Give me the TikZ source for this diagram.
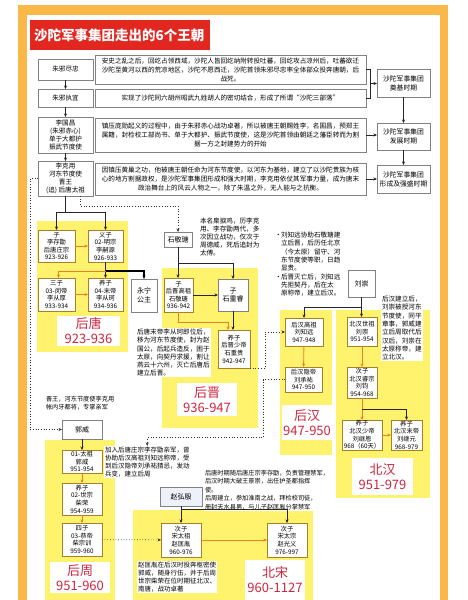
\documentclass[tikz,border=0pt]{standalone}
\usepackage{fontspec}
\setmainfont{Noto Sans CJK SC}
\XeTeXlinebreaklocale "zh"
\XeTeXlinebreakskip = 0pt plus 1pt
\usetikzlibrary{arrows.meta}
\definecolor{frameor}{RGB}{249,184,72}
\definecolor{titred}{RGB}{226,38,32}
\definecolor{yel}{RGB}{255,243,110}
\definecolor{gold}{RGB}{168,128,40}
\definecolor{dynred}{RGB}{205,38,62}
\definecolor{arrowor}{RGB}{232,128,40}
\definecolor{gbord}{RGB}{130,130,130}
\definecolor{lav}{RGB}{238,240,250}
\newcommand\fz[2]{\fontsize{#1}{#2}\selectfont}
\newcommand\bx[7]{\node[#6, anchor=north west, minimum width={(#4-#2)*1pt}, minimum height={(#5-#3)*1pt}] (#1) at (#2,#3) {#7};}
\tikzset{
 abox/.style={draw=gbord, fill=white, line width=0.5pt, align=center, inner sep=1pt, outer sep=0pt, font=\fz{6.6}{8.2}},
 tbox/.style={abox, font=\fz{6.6}{9}},
 rbox/.style={draw=gbord, fill=white, line width=0.8pt, align=center, inner sep=1pt, outer sep=0pt, font=\fz{6.8}{9}},
 mbox/.style={draw=gold, fill=white, line width=0.7pt, align=center, inner sep=0.5pt, outer sep=0pt, font=\fz{6.3}{7.6}},
 gbox/.style={draw=gbord, fill=white, line width=0.6pt, align=center, inner sep=1pt, outer sep=0pt, font=\fz{7}{8.5}},
 txt/.style={fill=white, align=left, inner sep=1pt, outer sep=0pt, font=\fz{6.5}{8.2}},
 lbl/.style={fill=white, text=dynred, align=center, inner sep=1pt, outer sep=0pt, font=\fz{13}{15}},
 arrtip/.style={-{Stealth[length=3.5pt,width=3pt]}},
 blk/.style={draw=black!85, line width=0.6pt},
 blkarr/.style={blk, arrtip},
 thk/.style={draw=black, line width=1.3pt, arrtip},
 ornarr/.style={draw=arrowor, line width=0.9pt, arrtip},
 dotarr/.style={draw=black!80, line width=0.7pt, dotted, arrtip},
}
\begin{document}
\begin{tikzpicture}[x=1pt,y=-1pt]
\useasboundingbox (0,0) rectangle (467,600);
\fill[white] (0,0) rectangle (467,600);
\fill[frameor] (18,5) rectangle (448,600);
\fill[white] (27,15) rectangle (440,600);
% title
\node[fill=titred, anchor=north west, text width=172pt, inner xsep=4pt, minimum height=30pt, align=left, text=white, font=\fz{13.5}{15}\bfseries] (title) at (30,20) {沙陀军事集团走出的6个王朝};
% rows
\bx{a1}{38}{59}{93}{80}{abox}{朱邪尽忠}
\bx{t1}{95}{55}{366}{84}{tbox}{安史之乱之后，回纥占领西域，沙陀人皆回纥纳附转投吐蕃，回纥攻占凉州后，吐蕃欲迁\\沙陀至黄河以西的荒凉地区，沙陀不愿西迁，沙陀首领朱邪尽忠率全体部众投奔唐朝，后\\战死。}
\bx{a2}{38}{89}{93}{107}{abox}{朱邪执宜}
\bx{t2}{95}{89}{366}{107}{tbox}{实现了沙陀同六胡州昭武九姓胡人的密切结合，形成了所谓“沙陀三部落”}
\bx{a3}{38}{117}{93}{153}{abox}{李国昌\\(朱邪赤心)\\单于大都护\\振武节度使}
\bx{t3}{95}{118}{366}{152}{tbox}{镇压庞勋起义的过程中，由于朱邪赤心战功卓著，所以被唐王朝赐姓李，名国昌，预郑王\\属籍，封检校工部尚书、单于大都护、振武节度使，这是沙陀首领由朝廷之藩臣转而为割\\据一方之封建势力的开始}
\bx{a4}{38}{161}{93}{196}{abox}{李克用\\河东节度使\\晋王\\(追) 后唐太祖}
\bx{t4}{95}{163}{366}{195}{tbox}{因镇压黄巢之功，他被唐王朝任命为河东节度使，以河东为基地，建立了以沙陀贵族为核\\心的地方割据政权，是沙陀军事集团形成和强大时期，李克用依仗其军事力量，成为唐末\\政治舞台上的风云人物之一，除了朱温之外，无人能与之抗衡。}
\bx{r1}{377}{69}{430}{97}{rbox}{沙陀军事集团\\奠基时期}
\bx{r2}{377}{123}{430}{150}{rbox}{沙陀军事集团\\发展时期}
\bx{r3}{377}{165}{430}{193}{rbox}{沙陀军事集团\\形成及强盛时期}
\draw[blkarr] (a1) -- (a2);
\draw[blkarr] (a2) -- (a3);
\draw[blkarr] (a3) -- (a4);
\coordinate (br) at (370,83.5);
\draw[blk] (t1.east) -- (t1.east -| br) -- (t2.east -| br) -- (t2.east);
\draw[blkarr] (br) -- (br -| r1.west);
\draw[blkarr] (r1) -- (r2);
\draw[blkarr] (r2) -- (r3);
\draw[blkarr] (t3.east) -- (t3.east -| r2.west);
\draw[blkarr] (t4.east) -- (t4.east -| r3.west);
% yellow regions
\fill[yel] (37,221) rectangle (128,352);
\fill[yel] (162,268) rectangle (258,428);
\fill[yel] (280,310) rectangle (332,455);
\fill[yel] (336,310) rectangle (430,498);
\fill[yel] (45,440) rectangle (115,600);
\fill[yel] (133,510) rectangle (313,600);
% Later Tang
\bx{b1}{38}{230}{75}{262}{mbox}{子\\李存勖\\后唐庄宗\\923-926}
\bx{b2}{88}{230}{123}{262}{mbox}{义子\\02-明宗\\李嗣源\\926-933}
\bx{b3}{38}{278}{75}{311}{mbox}{三子\\03-闵帝\\李从厚\\933-934}
\bx{b4}{88}{278}{123}{311}{mbox}{养子\\04-末帝\\李从珂\\934-936}
\bx{b5}{131}{279}{157}{312}{gbox}{永宁\\公主}
\bx{lt}{57}{316}{120}{346}{lbl}{后唐\\923-936}
\draw[blk] (a4.south) -- ++(0,16) coordinate (j1);
\draw[blkarr] (j1) -| (b1.north);
\draw[blkarr] (j1) -| (b2.north);
\draw[ornarr] (b1) -- (b2);
\draw[ornarr] (b3) -- (b4);
\draw[blk] (b2.south) -- ++(0,9) coordinate (j2);
\draw[blkarr] (j2) -- (b4.north);
\draw[thk] (j2) -| (b5.north);
\draw[ornarr] (j2) -| ([xshift=2pt]b3.north);
\node[txt, anchor=north west, font=\fz{6.6}{8.2}] (tb) at (136,328) {后唐末帝李从珂即位后，\\移为河东节度使，封为赵\\国公，后起兵造反，困于\\太原，向契丹求援，割让\\燕云十六州，灭亡后唐后\\建立后晋。};
% Later Jin
\bx{c0}{164}{232}{192}{247}{gbox}{石敬瑭}
\node[txt, anchor=north west, font=\fz{6.6}{8}] (tc0) at (199,217) {本名臬捩鸡，历李克\\用、李存勖两代，多\\次因立战功，仅次于\\周德威，死后追封为\\太傅。};
\bx{c1}{164}{278}{193}{312}{mbox}{子\\后晋高祖\\石敬瑭\\936-942}
\bx{c2}{218}{279}{248}{311}{gbox}{子\\石重睿}
\bx{c3}{218}{330}{250}{368}{mbox}{养子\\后晋少帝\\石重贵\\942-947}
\bx{lj}{177}{383}{237}{416}{lbl}{后晋\\936-947}
\draw[dotarr] ([xshift=14.5pt]a4.south) -- ++(0,10) -| (c0.north);
\draw[blk] (c0.south) -- ++(0,16) coordinate (j3);
\draw[blkarr] (j3) -- (j3 |- c1.north);
\draw[blkarr] (j3) -| (c2.north);
\draw[blkarr] (c1) -- (c2);
\draw[ornarr] (c1.south) -- ++(0,10) -| ([xshift=-6pt]c3.north);
\draw[blkarr] (c2.south) -- (c2.south |- c3.north);
% Later Han / Northern Han
\node[txt, anchor=north west, font=\fz{6.6}{8.3}] (th) at (274,231) {\makebox[6pt][l]{•}刘知远协助石敬瑭建\\\hspace*{6pt}立后晋，后历任北京\\\hspace*{6pt}（今太原）留守、河\\\hspace*{6pt}东节度使等职，日趋\\\hspace*{6pt}显贵。\\\makebox[6pt][l]{•}后晋灭亡后，刘知远\\\hspace*{6pt}先拒契丹，后在太\\\hspace*{6pt}原称帝，建立后汉。};
\bx{l0}{348}{270}{375}{297}{gbox}{刘崇}
\bx{h1}{285}{318}{323}{346}{mbox}{后汉高祖\\刘知远\\947-948}
\bx{h2}{285}{367}{322}{392}{mbox}{后汉隐帝\\刘承祐\\947-950}
\bx{n1}{347}{317}{377}{346}{mbox}{北汉世祖\\刘崇\\951-954}
\node[txt, anchor=north west, font=\fz{6.6}{8.3}] (tn) at (381,295) {后汉建立后，\\刘崇被授河东\\节度使，同平\\章事，郭威建\\立后周取代后\\汉后，刘崇在\\太原称帝，建\\立北汉。};
\bx{n2}{347}{367}{377}{398}{mbox}{次子\\北汉睿宗\\刘钧\\954-968}
\bx{n3}{342}{420}{382}{450}{mbox}{养子\\北汉少帝\\刘继恩\\968（60天）}
\bx{n4}{391}{420}{422}{450}{mbox}{养子\\北汉末帝\\刘继元\\968-979}
\bx{lh}{282}{405}{332}{440}{lbl}{后汉\\947-950}
\bx{ln}{352}{458}{413}{495}{lbl}{北汉\\951-979}
\draw[blk] (l0.south) -- ++(0,10) coordinate (j4);
\draw[blkarr] (j4) -| (h1.north);
\draw[blkarr] (j4) -- (j4 |- n1.north);
\draw[ornarr] (h1) -- (h2);
\draw[ornarr] (n1) -- (n2);
\draw[ornarr] (n2.south) -- (n2.south |- n3.north);
\draw[blkarr] (n2.south) ++(0,11) -| (n4.north);
\draw[ornarr] (n3) -- (n4);
\draw[dotarr] (c3.south east) -- ++(15,0) |- (h1.west);
% Later Zhou
\node[txt, anchor=north west, font=\fz{6.2}{8.5}] (tgw) at (45,395) {晋王，河东节度使李克用\\帐内牙都将，专掌亲军};
\bx{d0}{62}{420}{102}{439}{gbox}{郭威}
\bx{d1}{62}{450}{102}{473}{mbox}{01-太祖\\郭威\\951-954}
\bx{d2}{62}{483}{102}{515}{mbox}{养子\\02-世宗\\柴荣\\954-959}
\bx{d3}{62}{523}{102}{556}{mbox}{四子\\03-恭帝\\柴宗训\\959-960}
\node[txt, anchor=north west, font=\fz{6.5}{8}] (tz) at (104,446) {加入后唐庄宗李存勖亲军，曾\\协助后汉高祖刘知远称帝，受\\到后汉隐帝刘承祐猜忌，发动\\兵变，建立后周};
\bx{lz}{50}{562}{110}{593}{lbl}{后周\\951-960}
\draw[dotarr] (a4.west) -- ++(-8,0) |- (d0.west);
\draw[blkarr] (d0) -- (d1);
\draw[ornarr] (d1) -- (d2);
\draw[ornarr] (d2) -- (d3);
\draw[dotarr] (h2.west) -- ++(-22,0) -- ++(0,58) -| (tz.north);
% Northern Song
\bx{e0}{160}{487}{202}{506}{gbox, fill=lav}{赵弘殷}
\node[txt, anchor=north west, font=\fz{6.2}{8.5}] (te0) at (204,469) {后唐时期随后唐庄宗李存勖，负责管理禁军，\\后汉时期大破王景崇，出任护圣都指挥\\使。\\后周建立，参加淮南之战，拜检校司徒，\\册封天水县男，与儿子赵匡胤分掌禁军};
\bx{e1}{161}{523}{201}{557}{mbox}{次子\\宋太祖\\赵匡胤\\960-976}
\bx{e2}{267}{523}{307}{557}{mbox}{次子\\宋太宗\\赵光义\\976-997}
\node[txt, anchor=north west, font=\fz{6.5}{8}] (te1) at (137,561) {赵匡胤在后汉时投奔枢密使\\郭威，随身行伍，并于后周\\世宗柴荣在位时期征北汉、\\南唐，战功卓著};
\bx{ls}{245}{560}{305}{600}{lbl}{北宋\\960-1127}
\draw[blkarr] (e0) -- (e1);
\draw[blkarr] (e0.south) ++(0,3) -| (e2.north);
\draw[ornarr] (e1) -- (e2);
\draw[dotarr] (d3) -- (e1);
\end{tikzpicture}
\end{document}
